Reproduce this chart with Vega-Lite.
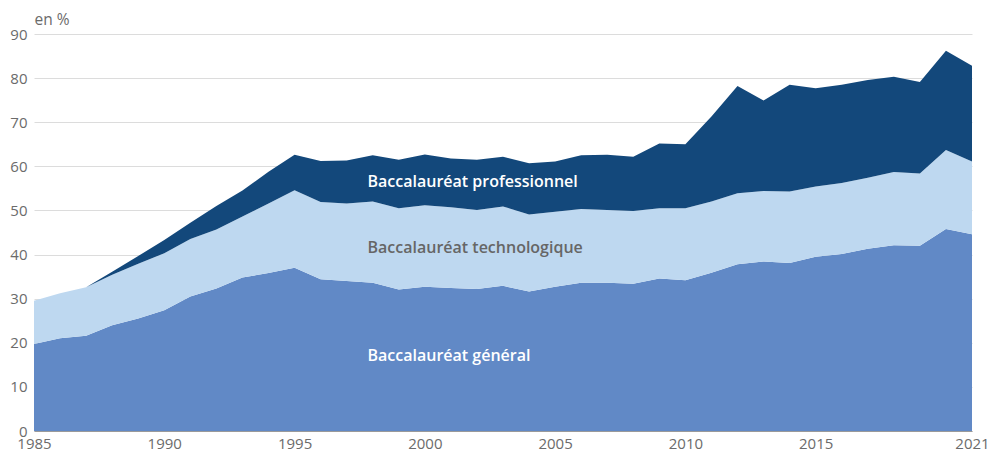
{
  "$schema": "https://vega.github.io/schema/vega-lite/v6.json",
  "width": 938,
  "height": 397,
  "autosize": "none",
  "padding": {"left": 34, "top": 34, "right": 19, "bottom": 24},
  "background": "white",
  "config": {
    "view": {"stroke": null},
    "font": "Open Sans",
    "axis": {"labelFont": "Open Sans", "labelFontSize": 15, "labelColor": "#6b6b6b", "titleFont": "Open Sans"}
  },
  "datasets": {
    "bac": [
      {"annee": 1985, "general": 19.7, "technologique": 9.8, "professionnel": 0.0},
      {"annee": 1986, "general": 21.0, "technologique": 10.2, "professionnel": 0.0},
      {"annee": 1987, "general": 21.6, "technologique": 11.0, "professionnel": 0.0},
      {"annee": 1988, "general": 24.0, "technologique": 11.4, "professionnel": 0.7},
      {"annee": 1989, "general": 25.5, "technologique": 12.4, "professionnel": 1.8},
      {"annee": 1990, "general": 27.4, "technologique": 12.9, "professionnel": 3.0},
      {"annee": 1991, "general": 30.5, "technologique": 13.0, "professionnel": 3.7},
      {"annee": 1992, "general": 32.3, "technologique": 13.4, "professionnel": 5.3},
      {"annee": 1993, "general": 34.8, "technologique": 13.8, "professionnel": 5.9},
      {"annee": 1994, "general": 35.8, "technologique": 15.8, "professionnel": 7.2},
      {"annee": 1995, "general": 37.0, "technologique": 17.6, "professionnel": 8.0},
      {"annee": 1996, "general": 34.4, "technologique": 17.5, "professionnel": 9.3},
      {"annee": 1997, "general": 34.0, "technologique": 17.6, "professionnel": 9.7},
      {"annee": 1998, "general": 33.6, "technologique": 18.4, "professionnel": 10.5},
      {"annee": 1999, "general": 32.1, "technologique": 18.4, "professionnel": 11.0},
      {"annee": 2000, "general": 32.7, "technologique": 18.5, "professionnel": 11.5},
      {"annee": 2001, "general": 32.4, "technologique": 18.3, "professionnel": 11.1},
      {"annee": 2002, "general": 32.2, "technologique": 17.9, "professionnel": 11.4},
      {"annee": 2003, "general": 32.9, "technologique": 18.0, "professionnel": 11.3},
      {"annee": 2004, "general": 31.6, "technologique": 17.5, "professionnel": 11.6},
      {"annee": 2005, "general": 32.7, "technologique": 17.0, "professionnel": 11.4},
      {"annee": 2006, "general": 33.6, "technologique": 16.7, "professionnel": 12.2},
      {"annee": 2007, "general": 33.6, "technologique": 16.5, "professionnel": 12.5},
      {"annee": 2008, "general": 33.4, "technologique": 16.5, "professionnel": 12.3},
      {"annee": 2009, "general": 34.6, "technologique": 15.9, "professionnel": 14.7},
      {"annee": 2010, "general": 34.2, "technologique": 16.3, "professionnel": 14.5},
      {"annee": 2011, "general": 35.9, "technologique": 16.1, "professionnel": 19.3},
      {"annee": 2012, "general": 37.8, "technologique": 16.1, "professionnel": 24.3},
      {"annee": 2013, "general": 38.4, "technologique": 16.0, "professionnel": 20.5},
      {"annee": 2014, "general": 38.1, "technologique": 16.2, "professionnel": 24.2},
      {"annee": 2015, "general": 39.5, "technologique": 15.9, "professionnel": 22.3},
      {"annee": 2016, "general": 40.1, "technologique": 16.1, "professionnel": 22.3},
      {"annee": 2017, "general": 41.3, "technologique": 16.1, "professionnel": 22.2},
      {"annee": 2018, "general": 42.1, "technologique": 16.6, "professionnel": 21.6},
      {"annee": 2019, "general": 42.0, "technologique": 16.4, "professionnel": 20.7},
      {"annee": 2020, "general": 45.8, "technologique": 17.9, "professionnel": 22.5},
      {"annee": 2021, "general": 44.6, "technologique": 16.5, "professionnel": 21.7}
    ],
    "etiquettes": [
      {"annee": 1997.8, "valeur": 56.5, "texte": "Baccalauréat professionnel", "serie": "professionnel"},
      {"annee": 1997.8, "valeur": 41.5, "texte": "Baccalauréat technologique", "serie": "technologique"},
      {"annee": 1997.8, "valeur": 17.0, "texte": "Baccalauréat général", "serie": "general"}
    ]
  },
  "layer": [
    {
      "data": {"name": "bac"},
      "transform": [
        {"fold": ["general", "technologique", "professionnel"], "as": ["serie", "valeur"]},
        {"window": [{"op": "row_number", "as": "rang"}], "groupby": ["annee"]}
      ],
      "mark": {"type": "area", "interpolate": "linear"},
      "encoding": {
        "x": {
          "field": "annee", "type": "quantitative",
          "scale": {"domain": [1985, 2021], "nice": false, "zero": false},
          "axis": {
            "title": null, "values": [1985, 1990, 1995, 2000, 2005, 2010, 2015, 2021],
            "format": "d", "grid": false, "ticks": false, "domain": true,
            "domainColor": "#9a9a9a", "domainWidth": 1, "labelPadding": 5,
            "labelFlush": false
          }
        },
        "y": {
          "field": "valeur", "type": "quantitative", "stack": "zero",
          "scale": {"domain": [0, 90], "nice": false},
          "axis": {
            "title": "en %", "titleAngle": 0, "titleAlign": "left", "titleBaseline": "alphabetic",
            "titleX": 0, "titleY": -10, "titleFontSize": 15.5, "titleFontWeight": "normal", "titleColor": "#6b6b6b",
            "values": [0, 10, 20, 30, 40, 50, 60, 70, 80, 90],
            "grid": true, "gridColor": "#dcdcdc", "gridWidth": 1,
            "ticks": false, "domain": false, "labelPadding": 7
          }
        },
        "order": {"field": "rang", "type": "quantitative", "sort": "ascending"},
        "color": {
          "field": "serie", "type": "nominal",
          "scale": {"domain": ["general", "technologique", "professionnel"], "range": ["#6189c6", "#bed8f0", "#13487b"]},
          "legend": null
        }
      }
    },
    {
      "data": {"name": "etiquettes"},
      "mark": {"type": "text", "align": "left", "baseline": "middle", "font": "Open Sans", "fontSize": 16, "fontWeight": 600},
      "encoding": {
        "x": {"field": "annee", "type": "quantitative"},
        "y": {"field": "valeur", "type": "quantitative"},
        "text": {"field": "texte"},
        "color": {
          "field": "serie", "type": "nominal",
          "scale": {"domain": ["general", "technologique", "professionnel"], "range": ["#ffffff", "#666666", "#ffffff"]},
          "legend": null
        }
      }
    }
  ],
  "resolve": {"scale": {"color": "independent"}}
}
